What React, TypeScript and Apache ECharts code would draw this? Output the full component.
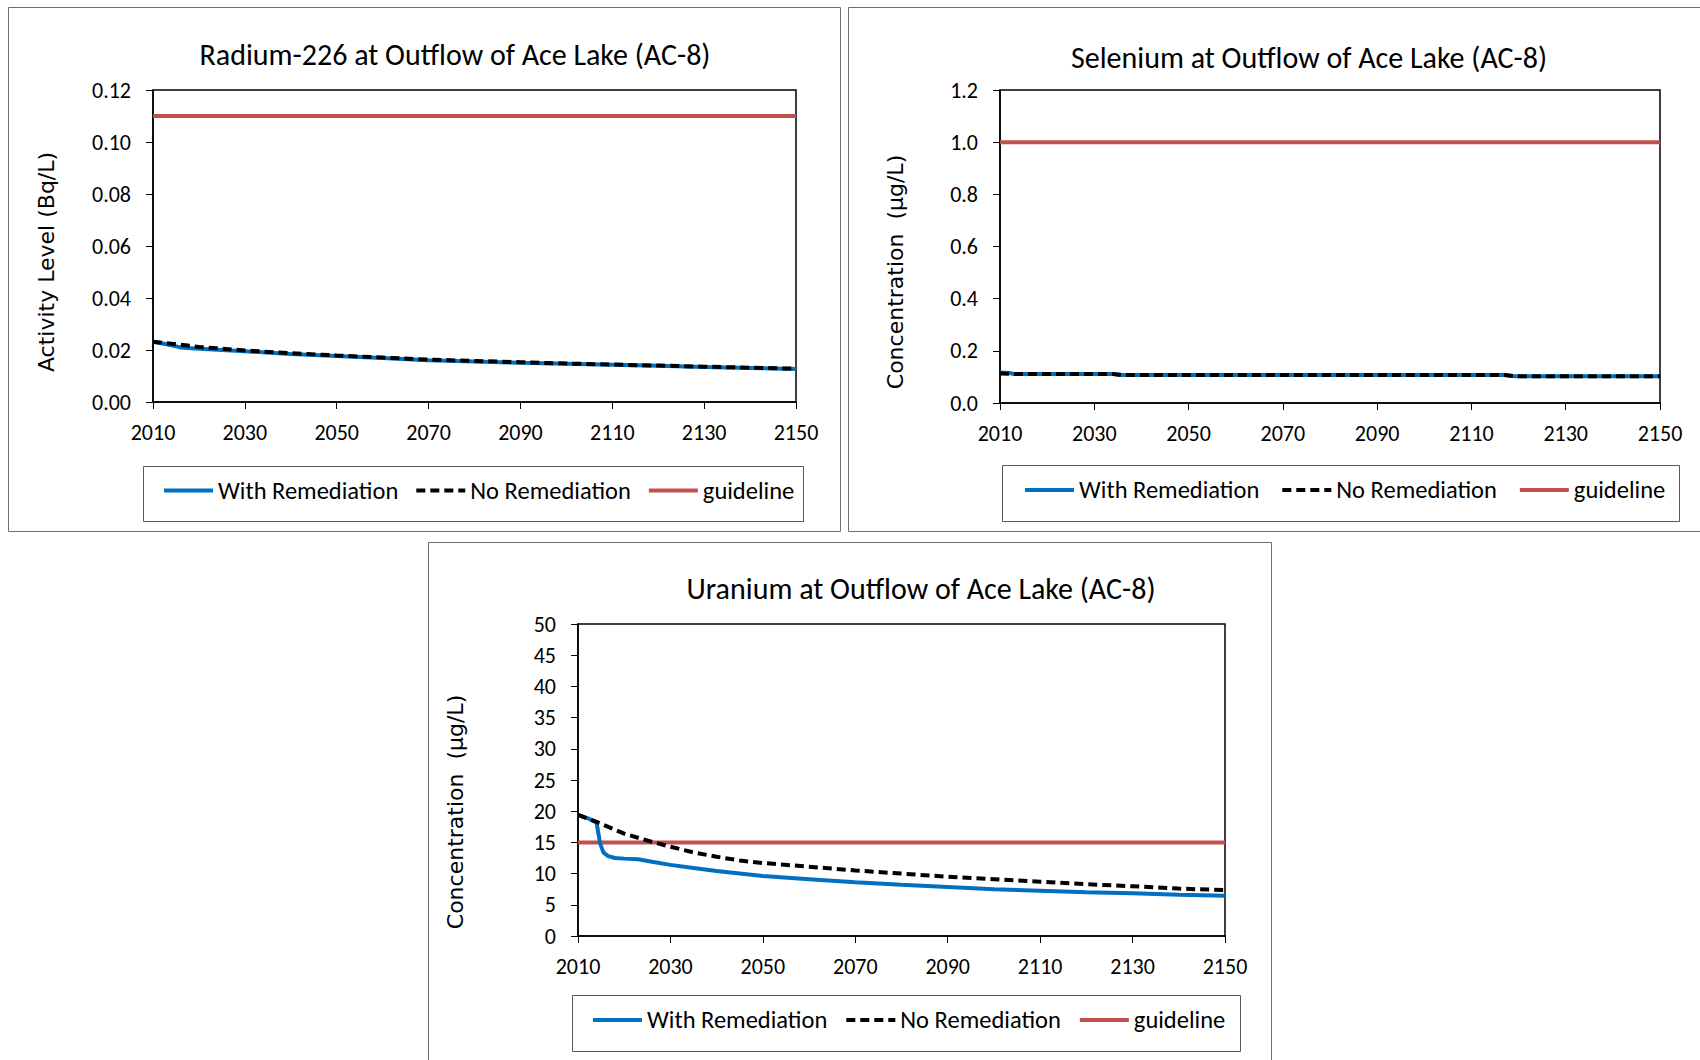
import React, { useEffect, useRef } from "react";
import * as echarts from "echarts";

// ---------- data ----------
const xMin = 2010;
const xMax = 2150;
const xStep = 20;

const seriesNames = ["With Remediation", "No Remediation", "guideline"];

const radiumYears = [2010, 2013, 2016, 2020, 2030, 2040, 2050, 2060, 2070, 2080, 2090, 2100, 2110, 2120, 2130, 2140, 2150];
const radiumWith = [0.0232, 0.0222, 0.021, 0.0205, 0.0195, 0.0185, 0.0177, 0.0169, 0.0161, 0.0156, 0.0151, 0.0147, 0.0143, 0.0139, 0.0135, 0.0131, 0.0127];
const radiumNo = [0.0232, 0.0226, 0.022, 0.0212, 0.0198, 0.0188, 0.0179, 0.0171, 0.0163, 0.0158, 0.0153, 0.0148, 0.0144, 0.014, 0.0136, 0.0132, 0.0128];
const radiumGuideline = 0.11;

const seleniumYears = [2010, 2012, 2013, 2034, 2036, 2117, 2119, 2150];
const seleniumWith = [0.117, 0.115, 0.111, 0.111, 0.107, 0.107, 0.103, 0.103];
const seleniumNo = [0.113, 0.112, 0.111, 0.111, 0.107, 0.107, 0.103, 0.103];
const seleniumGuideline = 1.0;

const uraniumWithYears = [2010, 2012, 2014, 2014.8, 2015.5, 2016.5, 2018, 2020, 2023, 2026, 2030, 2035, 2040, 2045, 2050, 2060, 2070, 2080, 2090, 2100, 2110, 2120, 2130, 2140, 2150];
const uraniumWith = [19.4, 18.9, 18.2, 14.8, 13.4, 12.8, 12.5, 12.4, 12.3, 11.9, 11.4, 10.9, 10.4, 10.0, 9.6, 9.1, 8.6, 8.2, 7.85, 7.5, 7.27, 7.0, 6.84, 6.6, 6.45];
const uraniumNoYears = [2010, 2014, 2020, 2025, 2030, 2035, 2040, 2045, 2050, 2060, 2070, 2080, 2090, 2100, 2110, 2120, 2130, 2140, 2150];
const uraniumNo = [19.4, 18.3, 16.4, 15.3, 14.3, 13.4, 12.7, 12.1, 11.7, 11.1, 10.5, 10.0, 9.5, 9.1, 8.7, 8.3, 7.97, 7.6, 7.35];
const uraniumGuideline = 15;

const titles = [
  "Radium-226 at Outflow of Ace Lake (AC-8)",
  "Selenium at Outflow of Ace Lake (AC-8)",
  "Uranium at Outflow of Ace Lake (AC-8)",
];
const yNames = ["Activity Level (Bq/L)", "Concentration  (\u00b5g/L)", "Concentration  (\u00b5g/L)"];
const yMins = [0, 0, 0];
const yMaxs = [0.12, 1.2, 50];
const ySteps = [0.02, 0.2, 5];
const yDecimals = [2, 1, 0];

// ---------- styling ----------
const FONT = "Carlito, Lato, 'Noto Sans', sans-serif";
const NAME_FONT = "'DejaVu Sans', Verdana, sans-serif";
const BLUE = "#0070C0";
const RED = "#C0504D";
const LW = 4;

const grids = [
  { left: 153, top: 90, width: 643, height: 312 },
  { left: 1000, top: 90, width: 660, height: 313 },
  { left: 578, top: 624, width: 647, height: 312 },
];
const panels = [
  { x: 8.5, y: 7.5, w: 832, h: 524 },
  { x: 848.5, y: 7.5, w: 860, h: 524 },
  { x: 428.5, y: 542.5, w: 843, h: 530 },
];
const titlePos = [
  { x: 455, y: 54 },
  { x: 1309, y: 57 },
  { x: 921, y: 588 },
];
const yNamePos = [
  { x: 46, y: 262 },
  { x: 895, y: 272 },
  { x: 455, y: 812 },
];
const legendBoxes = [
  { x: 143.5, y: 466.5, w: 660, h: 55 },
  { x: 1002.5, y: 465.5, w: 677, h: 56 },
  { x: 572.5, y: 995.5, w: 668, h: 56 },
];
const legendLeft = [162, 1023, 591];
const legendGaps = [16, 21, 17];

const zip = (xs: number[], ys: number[]) => xs.map((x, i) => [x, ys[i]]);

export default function App() {
  const ref = useRef<HTMLDivElement>(null);

  useEffect(() => {
    if (!ref.current) return;
    const chart = echarts.init(ref.current, null, { renderer: "svg" });

    const datasets = [
      { withD: zip(radiumYears, radiumWith), noD: zip(radiumYears, radiumNo), g: radiumGuideline },
      { withD: zip(seleniumYears, seleniumWith), noD: zip(seleniumYears, seleniumNo), g: seleniumGuideline },
      { withD: zip(uraniumWithYears, uraniumWith), noD: zip(uraniumNoYears, uraniumNo), g: uraniumGuideline },
    ];

    const series: any[] = [];
    datasets.forEach((d, i) => {
      series.push({
        name: seriesNames[0],
        type: "line",
        xAxisIndex: i,
        yAxisIndex: i,
        data: d.withD,
        showSymbol: false,
        symbol: "none",
        lineStyle: { color: BLUE, width: LW },
        itemStyle: { color: BLUE },
        z: 2,
      });
      series.push({
        name: seriesNames[1],
        type: "line",
        xAxisIndex: i,
        yAxisIndex: i,
        data: d.noD,
        showSymbol: false,
        symbol: "none",
        lineStyle: { color: "#000", width: LW, type: [9, 5] },
        itemStyle: { color: "#000" },
        z: 3,
      });
      series.push({
        name: seriesNames[2],
        type: "line",
        xAxisIndex: i,
        yAxisIndex: i,
        data: [
          [xMin, d.g],
          [xMax, d.g],
        ],
        showSymbol: false,
        symbol: "none",
        lineStyle: { color: RED, width: LW },
        itemStyle: { color: RED },
        z: 1,
      });
    });

    const graphic: any[] = [];
    panels.forEach((p) =>
      graphic.push({
        type: "rect",
        shape: { x: p.x, y: p.y, width: p.w, height: p.h },
        style: { fill: "none", stroke: "#6e6e6e", lineWidth: 1 },
        silent: true,
        z: 0,
      })
    );
    legendBoxes.forEach((p) =>
      graphic.push({
        type: "rect",
        shape: { x: p.x, y: p.y, width: p.w, height: p.h },
        style: { fill: "none", stroke: "#595959", lineWidth: 1 },
        silent: true,
        z: 0,
      })
    );
    titles.forEach((t, i) =>
      graphic.push({
        type: "text",
        x: titlePos[i].x,
        y: titlePos[i].y,
        style: {
          text: t,
          fill: "#000",
          font: `30px ${FONT}`,
          align: "center",
          verticalAlign: "middle",
        },
        silent: true,
      })
    );
    yNames.forEach((t, i) =>
      graphic.push({
        type: "text",
        x: yNamePos[i].x,
        y: yNamePos[i].y,
        rotation: Math.PI / 2,
        style: {
          text: t,
          fill: "#000",
          font: `22px ${NAME_FONT}`,
          align: "center",
          verticalAlign: "middle",
        },
        silent: true,
      })
    );

    const option: any = {
      animation: false,
      backgroundColor: "#fff",
      grid: grids.map((g) => ({
        ...g,
        show: true,
        borderColor: "#000",
        borderWidth: 1.5,
        backgroundColor: "transparent",
        containLabel: false,
      })),
      xAxis: grids.map((_, i) => ({
        type: "value",
        gridIndex: i,
        min: xMin,
        max: xMax,
        interval: xStep,
        axisLine: { show: true, lineStyle: { color: "#000", width: 1.5 } },
        axisTick: { show: true, length: 7, lineStyle: { color: "#000", width: 1 } },
        axisLabel: {
          color: "#000",
          fontSize: 22,
          fontFamily: FONT,
          margin: 19,
          formatter: (v: number) => String(Math.round(v)),
        },
        splitLine: { show: false },
      })),
      yAxis: grids.map((_, i) => ({
        type: "value",
        gridIndex: i,
        min: yMins[i],
        max: yMaxs[i],
        interval: ySteps[i],
        axisLine: { show: true, lineStyle: { color: "#000", width: 1.5 } },
        axisTick: { show: true, length: 7, lineStyle: { color: "#000", width: 1 } },
        axisLabel: {
          color: "#000",
          fontSize: 22,
          fontFamily: FONT,
          margin: 22,
          formatter: (v: number) => v.toFixed(yDecimals[i]),
        },
        splitLine: { show: false },
      })),
      legend: legendBoxes.map((b, i) => ({
        left: legendLeft[i],
        top: b.y + b.h / 2 - 16,
        padding: 0,
        itemWidth: 49,
        itemHeight: 14,
        itemGap: legendGaps[i],
        data: seriesNames,
        selectedMode: false,
        itemStyle: { opacity: 0 },
        lineStyle: { width: 4 },
        textStyle: { color: "#000", fontSize: 24.5, fontFamily: FONT },
      })),
      series,
      graphic,
    };

    chart.setOption(option);
    return () => chart.dispose();
  }, []);

  return (
    <div
      ref={ref}
      style={{ position: "fixed", left: 0, top: 0, width: 1700, height: 1060, background: "#fff" }}
    />
  );
}
